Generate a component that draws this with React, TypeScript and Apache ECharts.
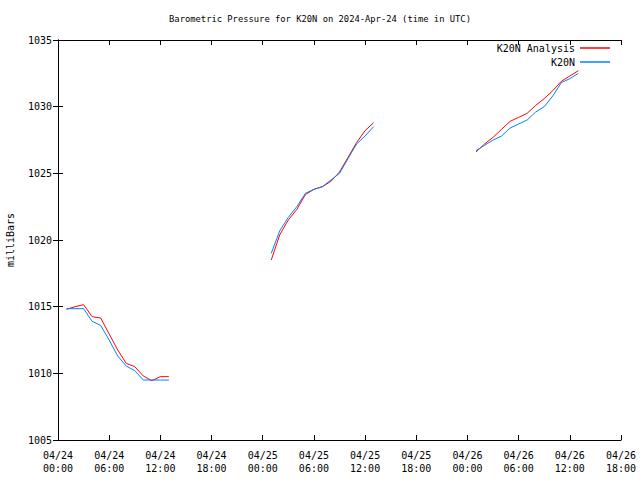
import React, { useEffect, useRef } from "react";
import * as echarts from "echarts";

// hour offsets from 2024-04-24 00:00 UTC (null value rows break the line)
const hours = [
  1, 2, 3, 4, 5, 6, 7, 8, 9, 10, 11, 12, 13,
  19,
  25, 26, 27, 28, 29, 30, 31, 32, 33, 34, 35, 36, 37,
  43,
  49, 50, 51, 52, 53, 54, 55, 56, 57, 58, 59, 60, 61,
];

const analysis = [
  1014.8, 1015.0, 1015.15, 1014.25, 1014.15, 1012.95, 1011.75, 1010.75, 1010.5, 1009.8, 1009.45, 1009.75, 1009.75,
  null,
  1018.5, 1020.4, 1021.5, 1022.3, 1023.4, 1023.8, 1024.0, 1024.4, 1025.1, 1026.2, 1027.3, 1028.2, 1028.8,
  null,
  1026.6, 1027.2, 1027.7, 1028.3, 1028.9, 1029.2, 1029.5, 1030.1, 1030.6, 1031.2, 1031.9, 1032.3, 1032.7,
];

const observed = [
  1014.85, 1014.85, 1014.85, 1013.9, 1013.6, 1012.5, 1011.3, 1010.55, 1010.2, 1009.5, 1009.5, 1009.5, 1009.5,
  null,
  1019.0, 1020.7, 1021.7, 1022.5, 1023.5, 1023.8, 1024.0, 1024.5, 1025.0, 1026.1, 1027.2, 1027.8, 1028.5,
  null,
  1026.7, 1027.1, 1027.5, 1027.8, 1028.4, 1028.7, 1029.0, 1029.6, 1030.0, 1030.8, 1031.8, 1032.1, 1032.5,
];

const seriesNames = ["K20N Analysis", "K20N"];
const seriesColors = ["#ff0000", "#0080ff"];
const titleText = "Barometric Pressure for K20N on 2024-Apr-24 (time in UTC)";
const yName = "milliBars";
const startMonth = "04";
const startDay = 24;

const FONT = "DejaVu Sans Mono";

function fmtHour(v: number): string {
  const day = startDay + Math.floor(v / 24);
  const hh = v % 24;
  return `${startMonth}/${day}\n${String(hh).padStart(2, "0")}:00`;
}

export default function App() {
  const ref = useRef<HTMLDivElement>(null);
  useEffect(() => {
    if (!ref.current) return;
    const chart = echarts.init(ref.current, null, { renderer: "svg" });
    const toData = (vals: (number | null)[]) => hours.map((h, i) => [h, vals[i]]);
    const axisLine = { show: true, lineStyle: { color: "#000", width: 1 } };
    const tick = { show: true, inside: true, length: 5, lineStyle: { color: "#000" } };
    const labelStyle = { color: "#000", fontFamily: FONT, fontSize: 10, lineHeight: 13 };
    chart.setOption({
      animation: false,
      backgroundColor: "#fff",
      title: {
        text: titleText,
        left: "center",
        top: 9,
        textStyle: { fontFamily: FONT, fontSize: 8.8, fontWeight: "normal", color: "#000" },
      },
      legend: {
        data: seriesNames,
        orient: "vertical",
        right: 25,
        top: 37,
        align: "right",
        itemWidth: 30,
        itemHeight: 1.5,
        itemGap: 2,
        icon: "rect",
        textStyle: { fontFamily: FONT, fontSize: 10, color: "#000", lineHeight: 12 },
      },
      grid: {
        left: 58,
        right: 19,
        top: 40,
        bottom: 40,
        show: false,
        containLabel: false,
        outerBoundsMode: "none",
      },
      xAxis: [
        {
          type: "value",
          min: 0,
          max: 66,
          interval: 6,
          position: "bottom",
          axisLine,
          axisTick: tick,
          splitLine: { show: false },
          axisLabel: { ...labelStyle, margin: 9, formatter: fmtHour },
        },
        {
          type: "value",
          min: 0,
          max: 66,
          interval: 6,
          position: "top",
          axisLine,
          axisTick: tick,
          splitLine: { show: false },
          axisLabel: { show: false },
        },
      ],
      yAxis: [
        {
          type: "value",
          min: 1005,
          max: 1035,
          interval: 5,
          position: "left",
          axisLine,
          axisTick: tick,
          splitLine: { show: false },
          axisLabel: { ...labelStyle, margin: 6, formatter: (v: number) => String(v) },
          name: yName,
          nameLocation: "middle",
          nameRotate: 90,
          nameGap: 43,
          nameTextStyle: { fontFamily: FONT, fontSize: 10, color: "#000" },
        },
        {
          type: "value",
          min: 1005,
          max: 1035,
          interval: 5,
          position: "right",
          axisLine,
          axisTick: tick,
          splitLine: { show: false },
          axisLabel: { show: false },
        },
      ],
      series: [
        {
          name: seriesNames[0],
          type: "line",
          data: toData(analysis),
          showSymbol: false,
          connectNulls: false,
          color: seriesColors[0],
          lineStyle: { color: seriesColors[0], width: 1 },
        },
        {
          name: seriesNames[1],
          type: "line",
          data: toData(observed),
          showSymbol: false,
          connectNulls: false,
          color: seriesColors[1],
          lineStyle: { color: seriesColors[1], width: 1 },
        },
      ],
    });
    return () => chart.dispose();
  }, []);
  return (
    <div
      ref={ref}
      style={{ position: "fixed", left: 0, top: 0, width: 640, height: 480, background: "#fff" }}
    />
  );
}
